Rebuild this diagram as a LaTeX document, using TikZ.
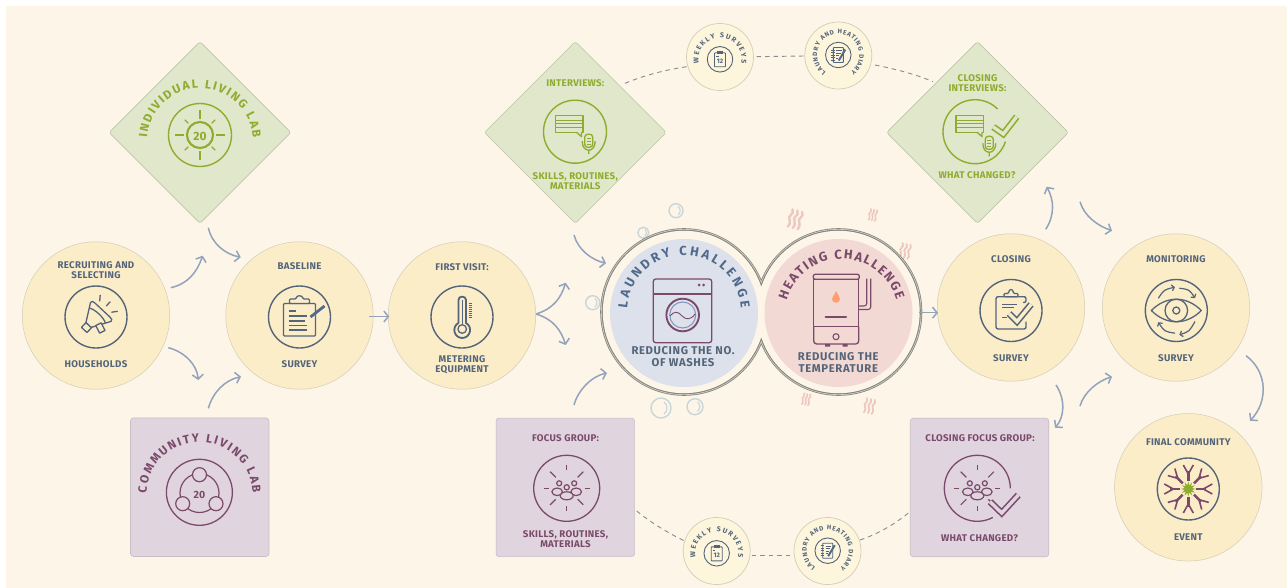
\documentclass[tikz,border=0pt]{standalone}
\usepackage{fontspec}
\setmainfont{Fira Sans}
\usetikzlibrary{arrows.meta,shapes.geometric,decorations.text}
\definecolor{pagebg}{HTML}{FCF5E8}
\definecolor{sunny}{HTML}{FCEDC9}
\definecolor{sunline}{HTML}{D3CDB4}
\definecolor{leaf}{HTML}{E0E7CB}
\definecolor{leafline}{HTML}{BCC6A8}
\definecolor{leaftxt}{HTML}{8FAC2E}
\definecolor{mauve}{HTML}{E0D5DF}
\definecolor{mauveline}{HTML}{C8BDC8}
\definecolor{plum}{HTML}{7B4A6B}
\definecolor{slate}{HTML}{54657A}
\definecolor{flowc}{HTML}{93A3BC}
\definecolor{washc}{HTML}{DDE1EB}
\definecolor{heatc}{HTML}{F3D9D3}
\definecolor{minic}{HTML}{FDF5DC}
\definecolor{bubc}{HTML}{C9D6D9}
\definecolor{steamc}{HTML}{EBC8C0}
\definecolor{ringd}{HTML}{85857E}
\definecolor{ringl}{HTML}{D8D6CC}
\definecolor{wblue}{HTML}{7F93BA}
\definecolor{wtitle}{HTML}{4F6A8C}
\newcommand{\lfont}{\fontsize{9.7}{10}\selectfont\bfseries\addfontfeature{LetterSpace=3}}
\newcommand{\rfont}{\fontsize{11.3}{12}\selectfont\bfseries\addfontfeature{LetterSpace=5.5}}
\newcommand{\arctext}[7]{\path[decorate,decoration={text along path,text align={fit to path},text={|\fontsize{#6}{#6}\selectfont\bfseries\color{#7}|#1}}] ([shift={(#2,#3)}]#5:#4) arc[start angle=#5,end angle=-#5-180,radius=#4];}
\newcommand{\bubb}[3]{\begin{scope}[shift={(#1,#2)},scale=#3]
\draw[bubc,line width=1.4pt] (0,0) circle[radius=1];
\draw[bubc,line width=1.1pt] (.3,-.6) .. controls (.7,-.3) and (.7,.3) .. (.3,.6);
\end{scope}}
\newcommand{\steamy}[5]{\begin{scope}[shift={(#1,#2)},rotate=#4,scale=#3]
\foreach \d in {-5,0,5}{\draw[steamc,line width=#5pt,line cap=round] (\d,-9) .. controls (\d+4,-4) and (\d-4,-2) .. (\d,2) .. controls (\d+2,4) and (\d+1,7) .. (\d,9);}
\end{scope}}
\newcommand{\checkol}[5]{\draw[#4,line width=6.6pt,miter limit=10] (#1) -- (#2) -- (#3);\draw[#5,line width=3.4pt,miter limit=10] (#1) -- (#2) -- (#3);}
\newcommand{\speech}{% local origin: circle centre
\draw[leaftxt,line width=1.3pt,line join=round] (-19.5,-16.5) rectangle (8,0.5);
\draw[leaftxt,line width=1.3pt] (-19.5,-11.5) -- (8,-11.5) (-19.5,-8) -- (8,-8) (-19.5,-4) -- (8,-4);
\draw[leaftxt,line width=1.3pt,line join=round,fill=leaf] (1.5,.5) -- (6.5,5) -- (6.5,.5);
\draw[leaftxt,line width=1.3pt] (-19.5,.5) -- (1.5,.5);
}
\newcommand{\micro}[2]{\begin{scope}[shift={(#1,#2)}]
\draw[leaftxt,line width=1.3pt,fill=leaf,rounded corners=3pt] (-4,-7) rectangle (4,6);
\draw[leaftxt,line width=.9pt] (-2,-3) -- (2,-3) (-2,0) -- (2,0) (-2,3) -- (2,3);
\draw[leaftxt,line width=1.3pt] (-6.5,0) .. controls (-6.5,12) and (6.5,12) .. (6.5,0) (0,9) -- (0,13);
\end{scope}}
\newcommand{\peopleico}{%
\draw[plum,line width=1.2pt,fill=mauve] (-9.5,3.5) ellipse[x radius=5.3,y radius=3.8];
\draw[plum,line width=1.2pt,fill=mauve] (9.5,3.5) ellipse[x radius=5.3,y radius=3.8];
\draw[plum,line width=1.2pt,fill=mauve] (-7.5,-5) circle[radius=2.5];
\draw[plum,line width=1.2pt,fill=mauve] (7.5,-5) circle[radius=2.5];
\draw[plum,line width=1.2pt,fill=mauve] (0,7.5) ellipse[x radius=6.5,y radius=4];
\draw[plum,line width=1.2pt,fill=mauve] (0,-1) circle[radius=2.6];
}
\newcommand{\calico}[2]{\begin{scope}[shift={(#1,#2)}]
\draw[slate,line width=.9pt,rounded corners=.6pt] (-5.5,-6.5) rectangle (5.5,7.5);
\fill[slate] (-3,-8) rectangle (3,-5.5);
\draw[slate,line width=.5pt] (-4,-3.5) -- (-1.5,-3.5);
\node[inner sep=0pt,text=slate,font=\fontsize{6.5}{7}\selectfont\bfseries] at (0,2) {12};
\end{scope}}
\newcommand{\diaryico}[2]{\begin{scope}[shift={(#1,#2)}]
\draw[slate,line width=.9pt,rounded corners=.6pt] (-5,-7.5) rectangle (5,7.5);
\foreach \q in {-5,-2.5,0,2.5,5}{\draw[slate,line width=.8pt] (-7,\q) -- (-3.5,\q);}
\draw[slate,line width=.7pt] (-2,-4.5) -- (3.5,-4.5) (-2,-2) -- (2.5,-2) (-2,.5) -- (1,.5) (-2,3) -- (0,3);
\draw[wtitle,line width=2pt] (.5,5.5) -- (7,-5.5);
\end{scope}}
\tikzset{
 bigc/.style={circle,fill=sunny,draw=sunline,line width=.5pt,minimum size=147.5pt,inner sep=0pt},
 minic/.style={circle,fill=minic,draw=sunline,line width=.7pt,minimum size=67pt,inner sep=0pt},
 leafd/.style={diamond,aspect=1,fill=leaf,draw=leafline,line width=.6pt,minimum width=182pt,minimum height=182pt,inner sep=0pt,rounded corners=2.5pt},
 mauves/.style={rectangle,fill=mauve,draw=mauveline,line width=.6pt,minimum size=138.5pt,inner sep=0pt,rounded corners=3pt},
 lab/.style={inner sep=0pt,align=center,font=\lfont,text=slate},
 labg/.style={lab,text=leaftxt},
 labp/.style={lab,text=plum},
 iring/.style={circle,draw=slate,line width=1.4pt,minimum size=#1,inner sep=0pt},
 gring/.style={circle,draw=leaftxt,line width=1.4pt,minimum size=#1,inner sep=0pt},
 pring/.style={circle,draw=plum,line width=1.3pt,minimum size=#1,inner sep=0pt},
 sring/.style={circle,draw=slate,line width=.9pt,minimum size=25.5pt,inner sep=0pt},
 flow/.style={flowc,line width=1.5pt,-{Straight Barb[length=4.5pt,width=11pt,line width=1.5pt]}},
 dashl/.style={draw=black!45,line width=.9pt,dash pattern=on 4.5pt off 4pt},
 ico/.style={slate,line width=1.3pt,line join=round},
}
\begin{document}
\begin{tikzpicture}[x=1pt,y=-1pt]
\useasboundingbox (0,0) rectangle (1287,588);
\fill[white] (0,0) rectangle (1287,588);
\fill[pagebg] (6,6) rectangle (1287,588);
% ---- decorations behind the challenges
\bubb{676}{210.7}{7}\bubb{643.3}{232.7}{5.5}\bubb{592.7}{302.7}{7}\bubb{661}{408}{10}\bubb{695}{406.7}{8}
\steamy{795}{219.3}{1}{-15}{2.4}\steamy{872.7}{215}{.62}{-12}{1.6}\steamy{905}{251}{.8}{-12}{1.8}\steamy{806}{399.3}{.62}{-12}{1.6}\steamy{869.3}{406}{.8}{-12}{1.8}
% ---- main nodes
\node[bigc] (recruit) at (96,315.5) {};
\node[bigc] (baseline) at (299.5,315.5) {};
\node[bigc] (visit) at (462,315.5) {};
\node[bigc] (closing) at (1011,307.5) {};
\node[bigc] (monitor) at (1176,307.5) {};
\node[bigc] (final) at (1188.3,487.3) {};
\node[leafd] (indiv) at (200,132.5) {};
\node[leafd] (interv) at (575.3,132.5) {};
\node[leafd] (closeint) at (977.5,132.5) {};
\node[mauves] (commun) at (199.7,487.2) {};
\node[mauves] (focus) at (565.3,487.3) {};
\node[mauves] (closefoc) at (979.5,487.5) {};
\node[minic] (wktop) at (720,57) {};
\node[minic] (dytop) at (838.3,55.5) {};
\node[minic] (wkbot) at (716.7,551) {};
\node[minic] (dybot) at (827.5,551) {};
% ---- challenge rings
\foreach \rr/\cc in {83.8/ringd,83/ringl,82.3/ringd,81.2/pagebg}{
 \fill[\cc] (684,312) circle[radius=\rr] (838.5,312) circle[radius=\rr];}
\node[circle,fill=washc,minimum size=148pt,inner sep=0pt] (laundry) at (684,313) {};
\node[circle,fill=heatc,minimum size=148pt,inner sep=0pt] (heating) at (838.5,313) {};
% ---- labels
\node[lab] (t1) at (96,270.5) {RECRUITING AND\\SELECTING};
\node[lab] (t2) at (96,364.3) {HOUSEHOLDS};
\node[lab] (t3) at (299.5,265.7) {BASELINE};
\node[lab] (t4) at (299.5,364.3) {SURVEY};
\node[lab] (t5) at (462,267) {FIRST VISIT:};
\node[lab] (t6) at (462,365) {METERING\\EQUIPMENT};
\node[lab] (t7) at (1011,259) {CLOSING};
\node[lab] (t8) at (1011,358) {SURVEY};
\node[lab] (t9) at (1176,259) {MONITORING};
\node[lab] (t10) at (1176,358) {SURVEY};
\node[lab] (t11) at (1188.3,441.7) {FINAL COMMUNITY};
\node[lab] (t12) at (1188.3,537.3) {EVENT};
\node[labg] (t13) at (575.3,83) {INTERVIEWS:};
\node[labg] (t14) at (575.3,181.3) {SKILLS, ROUTINES,\\MATERIALS};
\node[labg] (t15) at (977.5,83) {CLOSING\\INTERVIEWS:};
\node[labg] (t16) at (977,175.5) {WHAT CHANGED?};
\node[labp] (t17) at (565.5,438) {FOCUS GROUP:};
\node[labp] (t18) at (565.5,539.5) {SKILLS, ROUTINES,\\MATERIALS};
\node[labp] (t19) at (980,438.5) {CLOSING FOCUS GROUP:};
\node[labp] (t20) at (979.5,538.5) {WHAT CHANGED?};
\node[lab,font=\rfont] (t21) at (683,357) {REDUCING THE NO.\\OF WASHES};
\node[lab,font=\rfont] (t22) at (838.3,362.7) {REDUCING THE\\TEMPERATURE};
% ---- curved titles
\arctext{INDIVIDUAL LIVING LAB}{200}{141.5}{53}{-176}{12}{leaftxt}
\arctext{COMMUNITY LIVING LAB}{199.5}{495}{53}{-178}{12}{plum}
\arctext{LAUNDRY CHALLENGE}{684}{312}{57}{-176}{13}{wtitle}
\arctext{HEATING CHALLENGE}{841.5}{316}{57}{-164}{13}{plum}
\path[decorate,decoration={text along path,text align={fit to path},text={|\fontsize{7}{7}\selectfont\bfseries\color{slate}|WEEKLY SURVEYS}}] ([shift={(720,59.3)}]-190:21.5) arc[start angle=-190,end angle=10,radius=21.5];
\path[decorate,decoration={text along path,text align={fit to path},text={|\fontsize{7}{7}\selectfont\bfseries\color{slate}|WEEKLY SURVEYS}}] ([shift={(716.7,553.3)}]-190:21.5) arc[start angle=-190,end angle=10,radius=21.5];
\path[decorate,decoration={text along path,text align={fit to path},text={|\fontsize{6.4}{7}\selectfont\bfseries\color{slate}|LAUNDRY AND HEATING DIARY}}] ([shift={(838.3,55)}]-234:21) arc[start angle=-234,end angle=54,radius=21];
\path[decorate,decoration={text along path,text align={fit to path},text={|\fontsize{6.4}{7}\selectfont\bfseries\color{slate}|LAUNDRY AND HEATING DIARY}}] ([shift={(827.7,550.7)}]-234:21) arc[start angle=-234,end angle=54,radius=21];
% ---- small round icons
\node[sring] (i1) at (720,59.3) {};\calico{720}{59.3}
\node[sring] (i2) at (838.3,55) {};\diaryico{838.3}{55}
\node[sring] (i3) at (716.7,553.3) {};\calico{716.7}{553.3}
\node[sring] (i4) at (827.7,550.7) {};\diaryico{827.7}{550.7}
% ---- icon rings
\node[iring=62pt] (r1) at (96,317) {};
\node[iring=62pt] (r2) at (299.5,317) {};
\node[iring=62pt] (r3) at (462,317) {};
\node[iring=62pt] (r4) at (1011,310.5) {};
\node[iring=62pt] (r5) at (1176.3,310.5) {};
\node[iring=62pt] (r6) at (1188.3,489) {};
\node[gring=63pt] (r7) at (200,135) {};
\node[gring=63pt] (r8) at (575,131.7) {};
\node[pring=66pt] (r9) at (199.4,492.3) {};
\node[pring=66pt] (r10) at (566.7,488.3) {};
% ---- sun icon
\begin{scope}[shift={(200,135)}]
\draw[leaftxt,line width=2.1pt] (0,0) circle[radius=13];
\foreach \a in {0,90,180,270}{\draw[leaftxt,line width=1.1pt] (\a:16) -- (\a:25);}
\foreach \a in {45,135,225,315}{\draw[leaftxt,line width=1.1pt] (\a:16.5) -- (\a:21.5);}
\node[inner sep=0pt,text=leaftxt,font=\fontsize{12}{12}\selectfont\bfseries] (n20a) at (0,1.5) {20};
\end{scope}
% ---- community icon
\begin{scope}[shift={(199.5,493)}]
\draw[plum,line width=1.2pt] (0,0) circle[radius=19.5];
\foreach \x/\y in {0/-18.3,-16.8/10.7,16.5/10.7}{\draw[plum,line width=1.2pt,fill=mauve] (\x,\y) circle[radius=7];}
\node[inner sep=0pt,text=plum,font=\fontsize{10.5}{11}\selectfont\bfseries] (n20b) at (0,1.5) {20};
\end{scope}
% ---- megaphone
\begin{scope}[shift={(96,317)},rotate=47]
\draw[ico,fill=sunny] (-11,-3.5) -- (7,-14) .. controls (9,-14) and (9.5,-13) .. (9.5,-10) -- (9.5,10) .. controls (9.5,13) and (9,14) .. (7,14) -- (-11,3.5) -- cycle;
\draw[ico] (2,-11) .. controls (5,-6) and (5,6) .. (2,11);
\draw[ico,fill=sunny] (-17.5,-3.5) rectangle (-11,4);
\draw[ico,fill=sunny,rotate around={-20:(-3,8)}] (-7,7) rectangle (-1,15.5);
\draw[ico] (14,-8) -- (19,-12) (15,0) -- (21,0) (14,8) -- (19,12);
\end{scope}
% ---- baseline clipboard
\begin{scope}[shift={(299.5,317)}]
\draw[ico,rounded corners=1pt] (-16,-13.5) rectangle (16,19);
\draw[ico,fill=sunny,rounded corners=1pt] (-10,-18) -- (-3.5,-18) .. controls (-3,-22) and (3,-22) .. (3.5,-18) -- (10,-18) -- (10,-13.5) -- (-10,-13.5) -- cycle;
\draw[ico] (-11,-6) -- (-4,-6) (-11,-1) -- (7,-1) (-11,4) -- (5,4) (-11,8.5) -- (7,8.5) (-11,13) -- (7,13);
\draw[wtitle,line width=2.8pt] (11,0) -- (25,-11);
\end{scope}
% ---- thermometer
\begin{scope}[shift={(462.2,317)}]
\draw[ico,fill=sunny,line width=1.8pt] (-3.8,6) -- (-3.8,-17) .. controls (-3.8,-21.5) and (3.8,-21.5) .. (3.8,-17) -- (3.8,6) .. controls (11,10) and (8,21) .. (0,21) .. controls (-8,21) and (-11,10) .. (-3.8,6) -- cycle;
\draw[ico] (0,-17) -- (0,8);
\draw[ico,fill=sunny] (0,12) circle[radius=4.3];
\foreach \q in {-14,-12,-10,-8,-6,-4,-2,0}{\draw[slate,line width=.6pt] (6.5,\q) -- (10,\q);}
\end{scope}
% ---- closing clipboard
\begin{scope}[shift={(1011,310.5)}]
\draw[ico,line width=1.4pt,rounded corners=2pt] (12,-8) -- (15,-8) -- (15,-13.8) -- (-15,-13.8) -- (-15,18.5) -- (15,18.5) -- (15,11);
\draw[ico,fill=sunny,rounded corners=1pt] (-7,-13.8) -- (-7,-17) -- (-2.5,-17) .. controls (-2,-22) and (2,-22) .. (2.5,-17) -- (7,-17) -- (7,-13.8) -- cycle;
\draw[slate,line width=.8pt] (-9,-6.5) -- (6,-6.5) (-9,-3.5) -- (3,-3.5) (-9,7) -- (-4,7);
\checkol{-2,3}{6,11}{20,-6}{slate}{sunny}
\end{scope}
% ---- monitoring eye
\begin{scope}[shift={(1176.3,310.5)}]
\draw[ico] (-25,0) .. controls (-10,-15) and (10,-15) .. (25,0) .. controls (10,15) and (-10,15) .. (-25,0) -- cycle;
\draw[ico] (0,0) circle[radius=11.3];
\draw[ico] (0,0) circle[radius=3.5];
\foreach \ax/\ay/\bx/\by/\cx/\cy in {-18/-12.3/-12/-21/-1.3/-23.3,3/-22.3/13/-21/18.7/-12.3,18.7/11/13/21/3/24.3,-1.3/22.7/-12/21/-18/11.7}{
 \draw[slate,line width=1.2pt,-{Straight Barb[length=2.5pt,width=6pt]}] (\ax,\ay) .. controls (\bx,\by) .. (\cx,\cy);}
\end{scope}
% ---- final event icon
\begin{scope}[shift={(1188.3,489)}]
\foreach \a in {0,45,...,315}{
 \begin{scope}[rotate=\a]
 \draw[plum,line width=2.4pt] (8,0) -- (18,0);
 \draw[plum,line width=1.6pt] (15,0) -- (24,-5) (15,0) -- (24,5);
 \end{scope}}
\fill[leaftxt] (0,0) circle[radius=4.2];
\foreach \a in {0,30,...,330}{\fill[leaftxt] (\a:7.5) -- (\a+15:3.8) -- (\a-15:3.8) -- cycle;}
\end{scope}
% ---- interviews icon
\begin{scope}[shift={(575,131.7)}]
\speech
\micro{13.7}{9.5}
\end{scope}
% ---- closing interviews icon
\draw[leaftxt,line width=1.4pt] ([shift={(975,131.7)}]-45:32) arc[start angle=-45,end angle=-342,radius=32];
\begin{scope}[shift={(975.5,131.7)}]
\speech
\end{scope}
\micro{989.3}{143.3}
\checkol{993.3,127}{1003.3,134}{1016.7,116.7}{leaftxt}{leaf}
% ---- focus icon
\begin{scope}[shift={(566.7,488.3)}]
\foreach \a in {0,90,180,270}{\draw[plum,line width=1.2pt] (\a:18) -- (\a:23);}
\foreach \a in {45,135,225,315}{\draw[plum,line width=1.2pt] (\a:15.5) -- (\a:23.5);}
\peopleico
\end{scope}
% ---- closing focus icon
\draw[plum,line width=1.3pt] ([shift={(977.3,488.3)}]0:33) arc[start angle=0,end angle=-298,radius=33];
\begin{scope}[shift={(977.3,488.3)}]
\foreach \a in {0,90,180,270}{\draw[plum,line width=1.2pt] (\a:18) -- (\a:23);}
\foreach \a in {45,135,225,315}{\draw[plum,line width=1.2pt] (\a:15.5) -- (\a:23.5);}
\peopleico
\end{scope}
\checkol{990,501.7}{1001.7,513}{1018.3,495}{plum}{mauve}
% ---- washer
\begin{scope}
\draw[plum,line width=1.3pt,rounded corners=2.5pt] (653.3,279) rectangle (711.7,342.7);
\draw[plum,line width=1.9pt] (653.3,294) -- (711.7,294);
\fill[plum] (699,285) circle[radius=1.5] (703.7,285) circle[radius=1.5];
\draw[plum,line width=1.9pt] (682.7,315) circle[radius=16.3];
\draw[wblue,line width=1pt] (682.7,315) circle[radius=13];
\draw[plum,line width=.9pt] (670,316) .. controls (674,311) and (678,311) .. (682,316) .. controls (686,320) and (691,320) .. (695,314);
\end{scope}
% ---- boiler
\begin{scope}
\draw[plum,line width=1.3pt,rounded corners=2pt] (813.3,279.3) -- (813.3,274.3) -- (859.3,274.3) -- (859.3,279.3) -- cycle;
\draw[plum,line width=1.3pt] (813.7,279.3) rectangle (858.7,326.7);
\draw[plum,line width=1.3pt,rounded corners=3pt] (813.7,326.7) -- (813.7,344) -- (858.7,344) -- (858.7,326.7);
\fill[plum] (825,344) rectangle (830,346.5) (842.5,344) rectangle (847.5,346.5);
\draw[plum,line width=1.1pt] (836,336.7) circle[radius=3];
\draw[plum,line width=2pt,line cap=round] (825.5,316.7) -- (846,316.7);
\draw[plum,line width=1.1pt,rounded corners=2.5pt] (866.7,278.5) -- (866.7,306) -- (858.7,306) (870.7,278.5) -- (870.7,309.5) -- (858.7,309.5);
\fill[orange!60!red!55!white] (836,291) .. controls (837,294) and (840,296) .. (840,299) .. controls (840,304) and (832,304) .. (832,299) .. controls (832,296) and (835,295) .. (836,291) -- cycle;
\end{scope}
% ---- connectors
\coordinate (a1) at (170.7,287.7);\coordinate (a2) at (202.7,255.7);
\coordinate (b1) at (208.3,227.7);\coordinate (b2) at (240.7,257.3);
\coordinate (c1) at (168.3,347.7);\coordinate (c2) at (198.3,380);
\coordinate (d1) at (208.3,408.3);\coordinate (d2) at (241,376.7);
\coordinate (e1) at (369.3,316.5);\coordinate (e2) at (389.3,316.5);
\coordinate (f0) at (536,314);\coordinate (f1) at (565.7,282.7);\coordinate (f2) at (565.7,345);
\coordinate (g1) at (574,235);\coordinate (g2) at (606,263.3);
\coordinate (h1) at (574,405);\coordinate (h2) at (607,373);
\coordinate (i5) at (919.3,312.7);\coordinate (i6) at (938,312.7);
\coordinate (j1) at (1045.7,229.3);\coordinate (j2) at (1046.7,186.7);
\coordinate (k1) at (1080,201.7);\coordinate (k2) at (1112,230.7);
\coordinate (l1) at (1056,385);\coordinate (l2) at (1055,427.7);
\coordinate (m1) at (1080,406);\coordinate (m2) at (1112,376.7);
\coordinate (n1) at (1246,355.7);\coordinate (n2) at (1250,420.7);
\draw[flow] (a1) .. controls (188,284) and (197,272) .. (a2);
\draw[flow] (b1) .. controls (212,244) and (225,254) .. (b2);
\draw[flow] (c1) .. controls (185,352) and (197,365) .. (c2);
\draw[flow] (d1) .. controls (213,392) and (225,380) .. (d2);
\draw[flow] (e1) -- (e2);
\draw[flow] (f0) .. controls (553,309) and (561,298) .. (f1);
\draw[flow] (f0) .. controls (553,319) and (561,330) .. (f2);
\draw[flow] (g1) .. controls (578,250) and (592,260) .. (g2);
\draw[flow] (h1) .. controls (578,390) and (592,376) .. (h2);
\draw[flow] (i5) -- (i6);
\draw[flow] (j1) .. controls (1055,215) and (1054,200) .. (j2);
\draw[flow] (k1) .. controls (1084,216) and (1098,226) .. (k2);
\draw[flow] (l1) .. controls (1066,400) and (1064,418) .. (l2);
\draw[flow] (m1) .. controls (1084,392) and (1098,381) .. (m2);
\draw[flow] (n1) .. controls (1268,372) and (1268,402) .. (n2);
\coordinate (p1) at (625,83.3);\coordinate (p2) at (686.7,66.7);
\coordinate (p3) at (756.7,56.7);\coordinate (p4) at (805,56);
\coordinate (p5) at (875,65);\coordinate (p6) at (933,81.7);
\coordinate (q1) at (636.7,511);\coordinate (q2) at (684,540.7);
\coordinate (q3) at (751.7,555);\coordinate (q4) at (794,555);
\coordinate (q5) at (860,540);\coordinate (q6) at (910,511.7);
\draw[dashl] (p1) .. controls (645,75) and (665,70) .. (p2);
\draw[dashl] (p3) -- (p4);
\draw[dashl] (p5) .. controls (895,69) and (915,74) .. (p6);
\draw[dashl] (q1) .. controls (650,522) and (668,533) .. (q2);
\draw[dashl] (q3) -- (q4);
\draw[dashl] (q5) .. controls (878,534) and (895,524) .. (q6);
\end{tikzpicture}
\end{document}
